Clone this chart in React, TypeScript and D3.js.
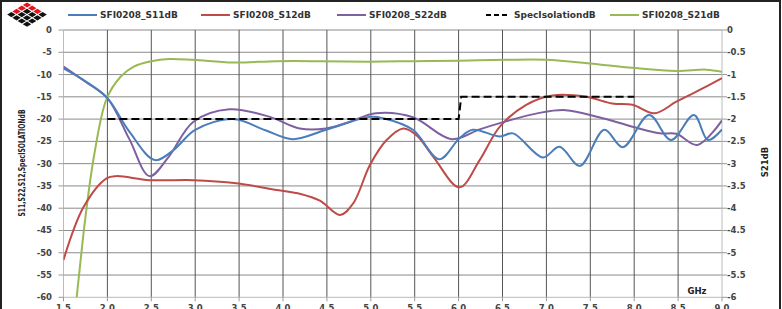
import React from 'react';
import * as d3 from 'd3';

// frequency ticks (GHz) and the two y axes
const freqTicks = [1.5, 2.0, 2.5, 3.0, 3.5, 4.0, 4.5, 5.0, 5.5, 6.0, 6.5, 7.0, 7.5, 8.0, 8.5, 9.0];
const leftTicks = [0, -5, -10, -15, -20, -25, -30, -35, -40, -45, -50, -55, -60];
const rightTicks = [0, -0.5, -1, -1.5, -2, -2.5, -3, -3.5, -4, -4.5, -5, -5.5, -6];

// SFI0208_S11dB
const s11Freq = [1.5, 1.75, 2.0, 2.25, 2.54, 2.75, 3.0, 3.43, 3.8, 4.11, 4.49, 4.99, 5.14, 5.48, 5.78, 6.01, 6.16, 6.47, 6.62, 6.96, 7.15, 7.38, 7.66, 7.87, 8.17, 8.42, 8.68, 8.84, 9.0];
const s11Db = [-8.6, -11.5, -15.3, -22.8, -29.2, -27.0, -22.4, -20.0, -22.5, -24.5, -22.4, -19.5, -19.8, -22.4, -29.0, -24.3, -22.4, -23.9, -23.2, -28.6, -26.2, -30.5, -22.4, -26.3, -19.1, -24.7, -19.1, -24.7, -22.3];

// SFI0208_S12dB
const s12Freq = [1.5, 1.73, 1.99, 2.1, 2.48, 2.98, 3.47, 3.93, 4.2, 4.42, 4.65, 4.8, 4.99, 5.18, 5.37, 5.52, 5.71, 6.01, 6.24, 6.47, 6.77, 7.07, 7.45, 7.75, 7.98, 8.23, 8.48, 8.74, 9.0];
const s12Db = [-51.6, -39.7, -33.3, -32.8, -33.7, -33.7, -34.4, -35.9, -36.8, -38.3, -41.5, -38.9, -30.3, -24.7, -22.1, -23.6, -28.4, -35.3, -29.2, -21.7, -16.8, -14.7, -15.0, -16.5, -16.8, -18.7, -16.1, -13.5, -10.8];

// SFI0208_S22dB
const s22Freq = [1.5, 1.75, 2.0, 2.25, 2.48, 2.7, 2.98, 3.39, 3.85, 4.19, 4.49, 4.76, 5.06, 5.48, 5.92, 6.24, 6.47, 6.92, 7.22, 7.6, 7.98, 8.29, 8.48, 8.72, 9.0];
const s22Db = [-8.2, -11.6, -15.3, -24.5, -32.8, -28.4, -20.6, -17.8, -19.5, -22.1, -22.1, -20.6, -18.7, -19.6, -24.5, -22.3, -20.9, -18.6, -18.0, -19.6, -21.7, -23.2, -23.3, -25.8, -20.3];

// SpecIsolationdB
const specFreq = [2.0, 6.0, 6.03, 8.0];
const specDb = [-20, -20, -15, -15];

// SFI0208_S21dB (right axis)
const s21Freq = [1.5, 1.65, 1.75, 1.85, 1.99, 2.15, 2.3, 2.5, 2.7, 2.98, 3.43, 3.93, 4.42, 4.99, 5.5, 6.01, 6.54, 7.0, 7.49, 7.98, 8.48, 8.82, 9.0];
const s21Db = [-8.7, -6.0, -4.2, -2.8, -1.55, -1.05, -0.82, -0.7, -0.65, -0.67, -0.73, -0.7, -0.7, -0.71, -0.7, -0.69, -0.67, -0.67, -0.75, -0.85, -0.92, -0.89, -0.94];

const legendItems = [
  { name: 'SFI0208_S11dB', color: '#4a7ebb', dash: '', x: 68 },
  { name: 'SFI0208_S12dB', color: '#be4b48', dash: '', x: 201 },
  { name: 'SFI0208_S22dB', color: '#7d60a0', dash: '', x: 337 },
  { name: 'SpecIsolationdB', color: '#000000', dash: '5,3', x: 486 },
  { name: 'SFI0208_S21dB', color: '#98b954', dash: '', x: 610 },
];

const W = 782;
const H = 309;
const left = 63.5;
const right = 722;
const top = 30;
const bottom = 297.3;
const font = 'DejaVu Sans, sans-serif';

const App: React.FC = () => {
  const x = d3.scaleLinear().domain([1.5, 9.0]).range([left, right]);
  const yL = d3.scaleLinear().domain([0, -60]).range([top, bottom]);
  const yR = d3.scaleLinear().domain([0, -6]).range([top, bottom]);

  const smooth = (fs: number[], vs: number[], y: d3.ScaleLinear<number, number>) =>
    d3.line<number>()
      .x((_, i) => x(fs[i]))
      .y((v) => y(v))
      .curve(d3.curveCatmullRom.alpha(0.5))(vs) || '';

  const straight = d3.line<number>()
    .x((_, i) => x(specFreq[i]))
    .y((v) => yL(v))(specDb) || '';

  // logo: rotated 4x4 grid of small squares
  const logoCells: { cx: number; cy: number; c: string }[] = [];
  for (let i = 0; i < 4; i++) {
    for (let j = 0; j < 4; j++) {
      const cx = 27 + (i - j) * 5.2;
      const cy = 5 + (i + j) * 3.2;
      const red = i + j < 3 && !(i === 1 && j === 1);
      logoCells.push({ cx, cy, c: red ? '#e3141b' : '#111' });
    }
  }

  return (
    <svg width={W} height={H} style={{ position: 'absolute', left: 0, top: 0, background: '#fff' }} fontFamily={font}>
      <defs>
        <clipPath id="plot">
          <rect x={left} y={top} width={right - left} height={bottom - top} />
        </clipPath>
      </defs>
      <rect x={1} y={1} width={W - 3} height={H + 5} fill="#fff" stroke="#222" strokeWidth={2} />

      {logoCells.map((d, i) => (
        <path key={i} d={`M${d.cx},${d.cy - 2.6} L${d.cx + 4.2},${d.cy} L${d.cx},${d.cy + 2.6} L${d.cx - 4.2},${d.cy} Z`} fill={d.c} />
      ))}

      {/* legend */}
      {legendItems.map((d) => (
        <g key={d.name}>
          <line x1={d.x} x2={d.x + (d.dash ? 24 : 29)} y1={15} y2={15} stroke={d.color} strokeWidth={2} strokeDasharray={d.dash || undefined} />
          <text x={d.x + (d.dash ? 28 : 32)} y={18} fontSize={9} fontWeight="bold" fill="#333">{d.name}</text>
        </g>
      ))}

      {/* grid */}
      {leftTicks.slice(0, -1).map((t) => (
        <line key={'h' + t} x1={left} x2={right} y1={yL(t)} y2={yL(t)} stroke="#8a8a8a" strokeWidth={1} />
      ))}
      {freqTicks.slice(1, -1).map((t) => (
        <line key={'v' + t} x1={x(t)} x2={x(t)} y1={top} y2={bottom} stroke="#555" strokeWidth={1} />
      ))}
      <line x1={left} x2={right} y1={bottom} y2={bottom} stroke="#bbb" />
      <line x1={left} x2={left} y1={top} y2={bottom} stroke="#bbb" />
      <line x1={right} x2={right} y1={top} y2={bottom} stroke="#bbb" />

      {/* axes */}
      {leftTicks.map((t) => (
        <g key={'lt' + t}>
          <line x1={left - 5} x2={left} y1={yL(t)} y2={yL(t)} stroke="#999" />
          <text x={52} y={yL(t) + 3} fontSize={8.5} fontWeight="bold" textAnchor="end" fill="#444">{t}</text>
        </g>
      ))}
      {rightTicks.map((t) => (
        <g key={'rt' + t}>
          <line x1={right} x2={right + 5} y1={yR(t)} y2={yR(t)} stroke="#999" />
          <text x={727} y={yR(t) + 3} fontSize={8.5} fontWeight="bold" fill="#444">{t}</text>
        </g>
      ))}
      {freqTicks.map((t) => (
        <g key={'bt' + t}>
          <line x1={x(t)} x2={x(t)} y1={bottom} y2={bottom + 4} stroke="#999" />
          <text x={x(t)} y={311} fontSize={8.5} fontWeight="bold" textAnchor="middle" fill="#444">{t.toFixed(1)}</text>
        </g>
      ))}
      <text transform="translate(25,163) rotate(-90)" fontSize={8.5} fontWeight="bold" textAnchor="middle" fill="#222" textLength={107} lengthAdjust="spacingAndGlyphs">S11,S22,S12,SpecISOLATIONdB</text>
      <text transform="translate(768,162) rotate(-90)" fontSize={8.5} fontWeight="bold" textAnchor="middle" fill="#222">S21dB</text>
      <text x={697} y={294} fontSize={8.5} fontWeight="bold" textAnchor="middle" fill="#222">GHz</text>

      {/* series */}
      <g clipPath="url(#plot)" fill="none" strokeWidth={2}>
        <path d={smooth(s21Freq, s21Db, yR)} stroke="#98b954" />
        <path d={smooth(s12Freq, s12Db, yL)} stroke="#be4b48" />
        <path d={smooth(s22Freq, s22Db, yL)} stroke="#7d60a0" />
        <path d={smooth(s11Freq, s11Db, yL)} stroke="#4a7ebb" />
        <path d={straight} stroke="#000" strokeDasharray="8,4" />
      </g>
    </svg>
  );
};

export default App;
